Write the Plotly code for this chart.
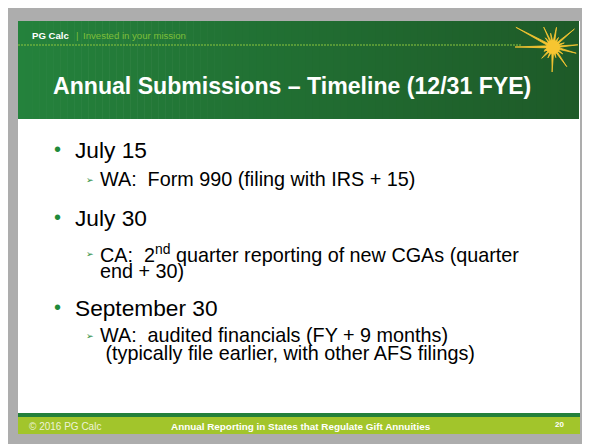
import plotly.graph_objects as go
import math

# ---- content ----
brand = "PG Calc"
tagline = "Invested in your mission"
title = "Annual Submissions \u2013 Timeline (12/31 FYE)"
bullet_heads = ["July 15", "July 30", "September 30"]
bullet_subs = [
    ["WA:\u00a0 Form 990 (filing with IRS + 15)"],
    ["CA:\u00a0 2<sup>nd</sup> quarter reporting of new CGAs (quarter", "end + 30)"],
    ["WA:\u00a0 audited financials (FY + 9 months)", " (typically file earlier, with other AFS filings)"],
]
footer_left = "\u00a9 2016 PG Calc"
footer_mid = "Annual Reporting in States that Regulate Gift Annuities"
page_no = "20"

W, H = 590, 444
OFF = 8  # page body margin compensation
FONT = "Liberation Sans, Arial, sans-serif"
GRAY = "#adadad"
GREEN_L = (36, 130, 60)
GREEN_R = (30, 90, 40)
LIME = "#a2c52b"
DKGREEN = "#23803b"
BULLET_GREEN = "#1f8a3a"

fig = go.Figure()
shapes = []
# background frame
shapes.append(dict(type="rect", x0=3, x1=W + OFF, y0=6, y1=H + OFF, fillcolor="#000000", line_width=0, layer="below"))
shapes.append(dict(type="rect", x0=5, x1=W + OFF, y0=8, y1=H + OFF, fillcolor=GRAY, line_width=0, layer="below"))
# white slide
shapes.append(dict(type="rect", x0=18, x1=580, y0=21, y1=434, fillcolor="#ffffff", line_width=0, layer="below"))
# header gradient
N = 80
x0h, x1h = 18, 579
for i in range(N):
    t = i / (N - 1)
    c = tuple(round(GREEN_L[k] + (GREEN_R[k] - GREEN_L[k]) * t) for k in range(3))
    xa = x0h + (x1h - x0h) * i / N
    xb = x0h + (x1h - x0h) * (i + 1) / N + 0.6
    shapes.append(dict(type="rect", x0=xa, x1=min(xb, x1h), y0=21, y1=119,
                       fillcolor="rgb(%d,%d,%d)" % c, line_width=0, layer="below"))
# dashed line in header
shapes.append(dict(type="line", x0=18, x1=522, y0=45, y1=45,
                   line=dict(color="#8dc63f", width=1, dash="2px,1px")))
# footer
shapes.append(dict(type="rect", x0=18, x1=580, y0=413, y1=417, fillcolor=DKGREEN, line_width=0))
shapes.append(dict(type="rect", x0=18, x1=580, y0=417, y1=434, fillcolor=LIME, line_width=0))

# star burst
cx, cy = 553, 47
spikes = [(180, 38), (205, 10), (152, 42), (130, 12), (115, 22), (100, 14), (80, 20),
          (60, 11), (40, 28), (20, 12), (5, 25), (-15, 24), (-35, 12), (-55, 24),
          (-75, 11), (-92, 25), (-115, 12), (-135, 16), (-160, 9)]
spikes = sorted(spikes, key=lambda s: s[0] % 360)
pts = []
n = len(spikes)
for i, (a, L) in enumerate(spikes):
    a0 = math.radians(a % 360)
    a_next = math.radians(spikes[(i + 1) % n][0] % 360 + (360 if i == n - 1 else 0))
    am = (a0 + a_next) / 2
    pts.append((cx + L * math.cos(a0), cy - L * math.sin(a0)))
    pts.append((cx + 5 * math.cos(am), cy - 5 * math.sin(am)))
path = "M " + " L ".join("%.1f,%.1f" % p for p in pts) + " Z"
shapes.append(dict(type="path", path=path, fillcolor="#f6c531", line=dict(color="#f6c531", width=0.8)))
shapes.append(dict(type="circle", x0=cx - 7, x1=cx + 7, y0=cy - 7, y1=cy + 7,
                   fillcolor="#f6c531", line_width=0))

ann = []
def text(x, y, s, size, color="#000", bold=False, anchor="left"):
    ann.append(dict(x=x, y=y, xref="x", yref="y", text=("<b>%s</b>" % s) if bold else s,
                    showarrow=False, xanchor=anchor, yanchor="middle",
                    font=dict(family=FONT, size=size, color=color)))

text(30, 35, brand, 9.6, "#ffffff", bold=True)
text(74, 35, "|", 9.6, "#7fbf3a")
text(81, 35, tagline, 9.6, "#7fbf3a")
text(51, 86, title, 23.1, "#ffffff", bold=True)

head_y = [150, 218, 308]
sub_y = [[179], [253, 271], [335, 353]]
for h, hy, subs, sys in zip(bullet_heads, head_y, bullet_subs, sub_y):
    text(52, hy - 1, "\u2022", 20, BULLET_GREEN)
    text(73, hy, h, 22.7)
    for j, (s, yy) in enumerate(zip(subs, sys)):
        if j == 0:
            text(84, yy + 1, "\u27a2", 9, BULLET_GREEN)
        text(98, yy, s, 19.8)

text(27, 426, footer_left, 10, "#eef3d8")
text(301, 426, footer_mid, 9.9, "#ffffff", bold=True, anchor="center")
text(559, 424, page_no, 8, "#ffffff", bold=True, anchor="center")

fig.update_layout(
    width=W, height=H, margin=dict(l=0, r=0, t=0, b=0),
    paper_bgcolor="#ffffff", plot_bgcolor="#ffffff",
    xaxis=dict(range=[OFF, W + OFF], visible=False, fixedrange=True),
    yaxis=dict(range=[H + OFF, OFF], visible=False, fixedrange=True),
    shapes=shapes, annotations=ann, showlegend=False,
)
fig.write_html("out.html")
